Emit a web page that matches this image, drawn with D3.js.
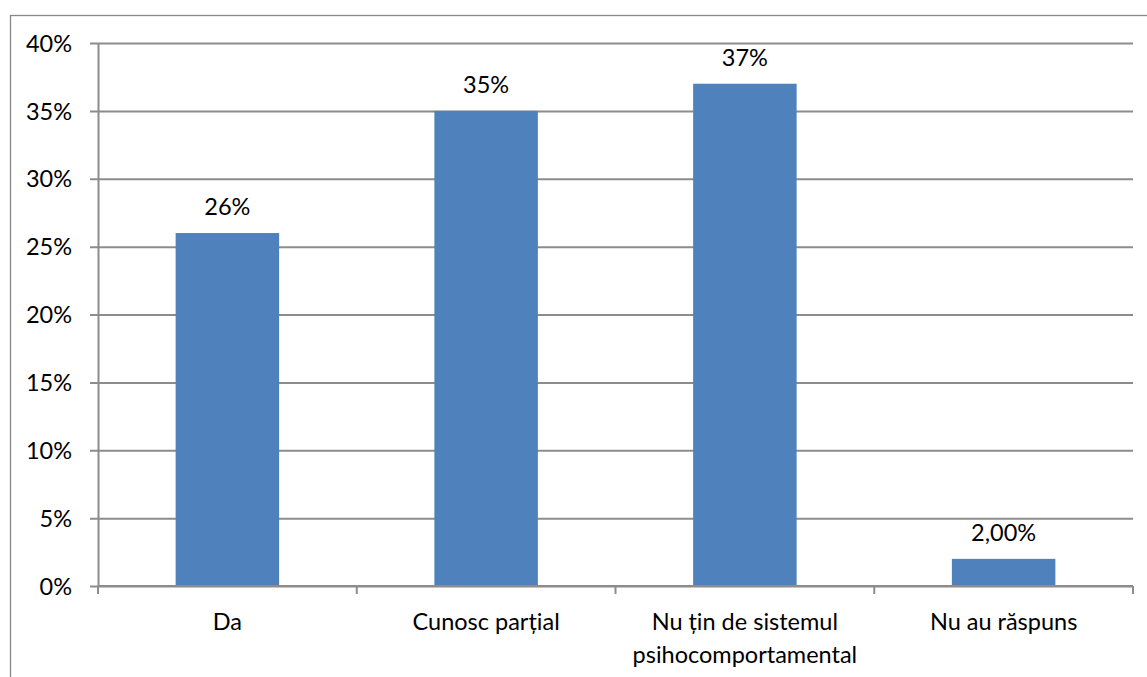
<!DOCTYPE html>
<html>
<head>
<meta charset="utf-8">
<script src="https://cdn.jsdelivr.net/npm/d3@7"></script>
<style>
  html, body { margin: 0; padding: 0; background: #fff; }
  svg { display: block; }
  text { font-family: Lato, "Open Sans", sans-serif; fill: #000; }
</style>
</head>
<body>
<svg id="chart" width="1147" height="677"></svg>
<script>
// Survey answers and their shares (%)
const categories = ["Da", "Cunosc parțial", "Nu țin de sistemul psihocomportamental", "Nu au răspuns"];
const categoryLines = [["Da"], ["Cunosc parțial"], ["Nu țin de sistemul", "psihocomportamental"], ["Nu au răspuns"]];
const values = [26, 35, 37, 2];
const valueLabels = ["26%", "35%", "37%", "2,00%"];
const yTicks = [0, 5, 10, 15, 20, 25, 30, 35, 40];

const W = 1147, H = 677;
const margin = { left: 98, right: 14, top: 43, bottom: 91 };
const fontSize = 23.5;
const svg = d3.select("#chart");

// Outer chart frame
svg.append("rect")
  .attr("x", 10.5).attr("y", 15.5)
  .attr("width", W + 20).attr("height", H + 20)
  .attr("fill", "none").attr("stroke", "#898989").attr("stroke-width", 1.3);

const x = d3.scaleBand()
  .domain(categories)
  .range([margin.left, W - margin.right])
  .paddingInner(0.6).paddingOuter(0.3);

const xOuter = d3.scaleBand()
  .domain(categories)
  .range([margin.left, W - margin.right]);

const y = d3.scaleLinear()
  .domain([0, 40])
  .range([H - margin.bottom, margin.top]);

const gridColor = "#8c8c8c";

// Horizontal gridlines with left tick marks and labels
const yAxis = d3.axisLeft(y)
  .tickValues(yTicks)
  .tickSize(-(W - margin.right - margin.left))
  .tickSizeOuter(0)
  .tickFormat(d => d + "%");

const gy = svg.append("g")
  .attr("transform", `translate(${margin.left},0)`)
  .call(yAxis);
gy.select(".domain").attr("stroke", gridColor).attr("stroke-width", 2);
gy.selectAll(".tick line")
  .attr("stroke", gridColor).attr("stroke-width", 2)
  .attr("x1", -8);
gy.selectAll(".tick text")
  .attr("x", -26)
  .attr("font-size", fontSize)
  .attr("dy", "0.35em");

// Bars
svg.append("g").selectAll("rect")
  .data(values)
  .join("rect")
  .attr("x", (d, i) => x(categories[i]))
  .attr("y", d => y(d))
  .attr("width", x.bandwidth())
  .attr("height", d => y(0) - y(d))
  .attr("fill", "#4f81bd");

// Value labels above bars
svg.append("g").selectAll("text")
  .data(values)
  .join("text")
  .attr("x", (d, i) => x(categories[i]) + x.bandwidth() / 2)
  .attr("y", d => y(d) - 26)
  .attr("dy", "0.35em")
  .attr("text-anchor", "middle")
  .attr("font-size", fontSize)
  .text((d, i) => valueLabels[i]);

// Category axis: boundary ticks between categories
const gx = svg.append("g");
gx.append("line")
  .attr("x1", margin.left).attr("x2", W - margin.right)
  .attr("y1", y(0)).attr("y2", y(0))
  .attr("stroke", gridColor).attr("stroke-width", 2);
const bounds = categories.map(c => xOuter(c)).concat([xOuter(categories[categories.length - 1]) + xOuter.bandwidth()]);
gx.selectAll("line.b")
  .data(bounds)
  .join("line")
  .attr("class", "b")
  .attr("x1", d => d).attr("x2", d => d)
  .attr("y1", y(0)).attr("y2", y(0) + 8)
  .attr("stroke", gridColor).attr("stroke-width", 2);

// Category labels
const lbl = svg.append("g").selectAll("text")
  .data(categoryLines)
  .join("text")
  .attr("text-anchor", "middle")
  .attr("font-size", fontSize)
  .attr("x", (d, i) => x(categories[i]) + x.bandwidth() / 2)
  .attr("y", y(0) + 36);
lbl.selectAll("tspan")
  .data(d => d)
  .join("tspan")
  .attr("x", function () { return this.parentNode.getAttribute("x"); })
  .attr("dy", (d, i) => i === 0 ? "0.35em" : "1.4em")
  .text(d => d);
</script>
</body>
</html>
